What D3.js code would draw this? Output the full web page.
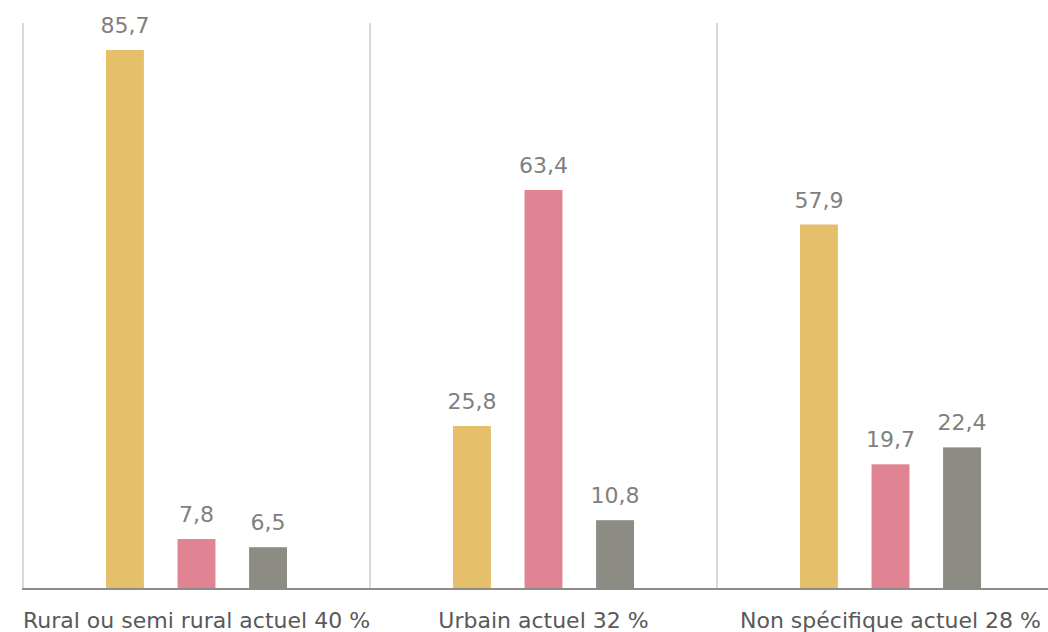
<!DOCTYPE html>
<html>
<head>
<meta charset="utf-8">
<script src="https://cdn.jsdelivr.net/npm/d3@7"></script>
<style>
  body { margin: 0; background: #fff; }
  svg text { font-family: "DejaVu Sans", sans-serif; }
</style>
</head>
<body>
<svg id="chart" width="1048" height="632"></svg>
<script>
var categories = ["Rural ou semi rural actuel 40 %", "Urbain actuel 32 %", "Non spécifique actuel 28 %"];
var seriesNames = ["s1", "s2", "s3"];
var seriesColors = ["#e5bf6a", "#e08494", "#8c8c85"];
var s1Values = [85.7, 25.8, 57.9];
var s2Values = [7.8, 63.4, 19.7];
var s3Values = [6.5, 10.8, 22.4];

var width = 1048, height = 632;
var plotLeft = 23, groupW = 347, plotTop = 23, baseY = 588;

var svg = d3.select("#chart");

var data = categories.map((c, i) => ({
  cat: c,
  vals: [s1Values[i], s2Values[i], s3Values[i]]
}));

var x0 = d3.scaleBand().domain(categories)
  .range([plotLeft, plotLeft + groupW * categories.length]).paddingInner(0).paddingOuter(0);

var x1 = d3.scaleBand().domain(seriesNames)
  .range([0, groupW]).paddingInner(0.47).paddingOuter(1.16);

var y = d3.scaleLinear().domain([0, 90]).range([baseY, plotTop]);

// group separators
svg.append("g").selectAll("line")
  .data(d3.range(categories.length + 1))
  .enter().append("line")
  .attr("x1", i => plotLeft + i * groupW)
  .attr("x2", i => plotLeft + i * groupW)
  .attr("y1", plotTop)
  .attr("y2", baseY)
  .attr("stroke", "#d9d9d9")
  .attr("stroke-width", 2);

var groups = svg.append("g").selectAll("g")
  .data(data)
  .enter().append("g")
  .attr("transform", d => `translate(${x0(d.cat)},0)`);

groups.selectAll("rect")
  .data(d => d.vals.map((v, j) => ({ key: seriesNames[j], v: v, color: seriesColors[j] })))
  .enter().append("rect")
  .attr("x", d => x1(d.key))
  .attr("y", d => y(d.v))
  .attr("width", x1.bandwidth())
  .attr("height", d => baseY - y(d.v))
  .attr("fill", d => d.color);

groups.selectAll("text.val")
  .data(d => d.vals.map((v, j) => ({ key: seriesNames[j], v: v })))
  .enter().append("text")
  .attr("class", "val")
  .attr("x", d => x1(d.key) + x1.bandwidth() / 2)
  .attr("y", d => y(d.v) - 17)
  .attr("text-anchor", "middle")
  .style("font-size", "22px")
  .style("fill", "#7f7f7f")
  .text(d => d3.format(".1f")(d.v).replace(".", ","));

// baseline
svg.append("line")
  .attr("x1", plotLeft - 1)
  .attr("x2", width)
  .attr("y1", baseY + 1)
  .attr("y2", baseY + 1)
  .attr("stroke", "#8c8c8c")
  .attr("stroke-width", 2);

// category labels
svg.append("g").selectAll("text")
  .data(categories)
  .enter().append("text")
  .attr("x", d => x0(d) + groupW / 2)
  .attr("y", 628)
  .attr("text-anchor", "middle")
  .style("font-size", "22px")
  .style("fill", "#595959")
  .text(d => d);
</script>
</body>
</html>
